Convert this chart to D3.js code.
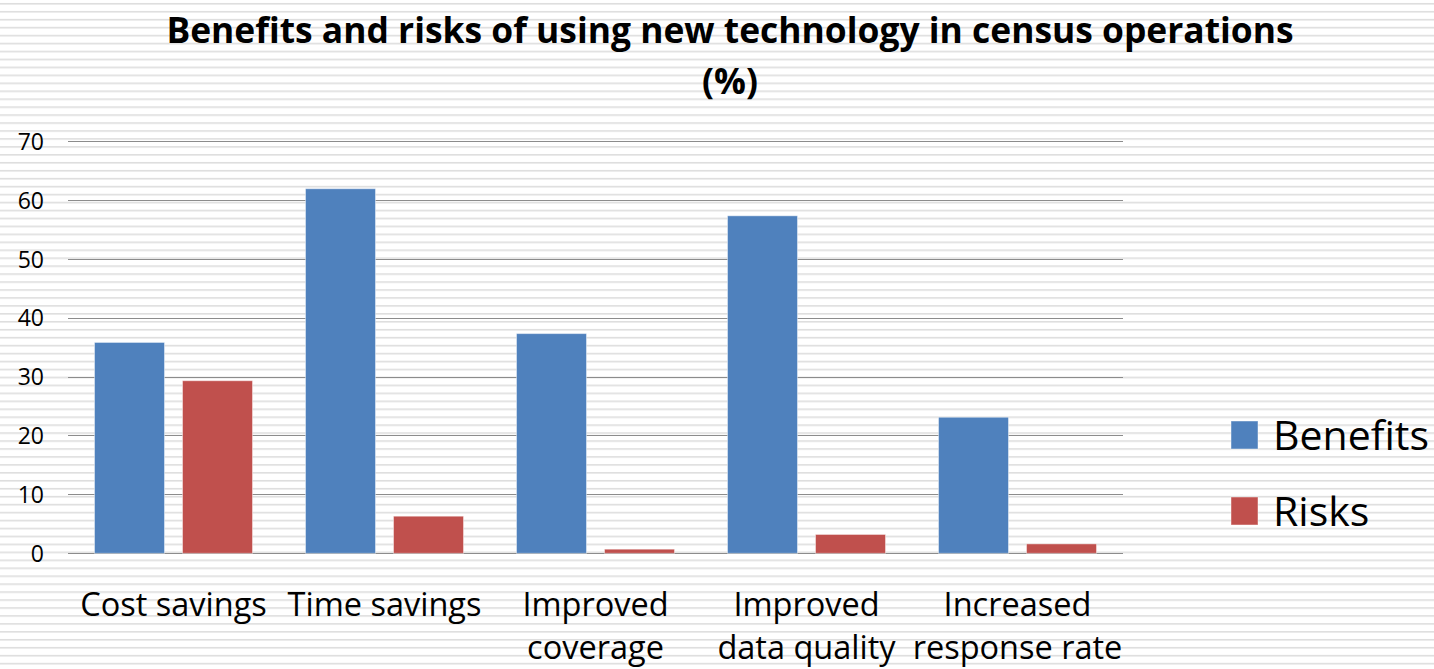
<!DOCTYPE html>
<html>
<head>
<meta charset="utf-8">
<script src="https://cdn.jsdelivr.net/npm/d3@7"></script>
<style>
  html, body { margin: 0; padding: 0; background: #fff; }
  svg { display: block; }
  text { font-family: "Open Sans", Lato, sans-serif; fill: #000; }
</style>
</head>
<body>
<svg id="chart" width="1434" height="669"></svg>
<script>
// Survey shares (%) per area of census operations
const categories = [
  ["Cost savings"],
  ["Time savings"],
  ["Improved", "coverage"],
  ["Improved", "data quality"],
  ["Increased", "response rate"]
];
const seriesNames = ["Benefits", "Risks"];
const benefits = [35.8, 61.9, 37.3, 57.3, 23.1];
const risks = [29.3, 6.3, 0.7, 3.2, 1.6];
const yTicks = [0, 10, 20, 30, 40, 50, 60, 70];
const colors = ["#4f81bd", "#c0504d"];

const svg = d3.select("#chart");
const W = 1434, H = 669;

// striped page background
const defs = svg.append("defs");
const pat = defs.append("pattern")
  .attr("id", "stripes").attr("patternUnits", "userSpaceOnUse")
  .attr("width", 8).attr("height", 7.95);
pat.append("rect").attr("width", 8).attr("height", 7.95).attr("fill", "#ffffff");
pat.append("rect").attr("y", 3).attr("width", 8).attr("height", 1.6).attr("fill", "#dedede");
svg.append("rect").attr("width", W).attr("height", H).attr("fill", "url(#stripes)");

const plot = { left: 68, right: 1123, top: 141, bottom: 553.3 };

const x0 = d3.scaleBand()
  .domain(d3.range(categories.length))
  .range([plot.left, plot.right])
  .paddingInner(0).paddingOuter(0);

const x1 = d3.scaleBand()
  .domain(seriesNames)
  .range([0, x0.bandwidth()])
  .paddingInner(0.2045).paddingOuter(0.301);

const y = d3.scaleLinear().domain([0, 70]).range([plot.bottom, plot.top]);

// gridlines
svg.append("g").selectAll("line").data(yTicks).join("line")
  .attr("x1", plot.left).attr("x2", plot.right)
  .attr("y1", d => Math.round(y(d)) + 0.5).attr("y2", d => Math.round(y(d)) + 0.5)
  .attr("stroke", "#8c8c8c").attr("stroke-width", 1);

// y axis labels
const yAxis = d3.axisLeft(y).tickValues(yTicks).tickSize(0).tickPadding(0);
const gy = svg.append("g").attr("transform", `translate(44,0)`).call(yAxis);
gy.select(".domain").remove();
gy.selectAll("text")
  .style("font-family", "'Open Sans', Lato, sans-serif")
  .style("font-size", "23px").attr("fill", "#262626").attr("dy", "0.36em");

// bars
const rows = categories.map((c, i) => ({ i, values: [benefits[i], risks[i]] }));
const groups = svg.append("g").selectAll("g").data(rows).join("g")
  .attr("transform", d => `translate(${x0(d.i)},0)`);
groups.selectAll("rect")
  .data(d => d.values.map((v, k) => ({ v, k })))
  .join("rect")
  .attr("x", d => x1(seriesNames[d.k]))
  .attr("width", x1.bandwidth())
  .attr("y", d => y(d.v))
  .attr("height", d => y(0) - y(d.v))
  .attr("fill", d => colors[d.k])
  .attr("stroke", "rgba(255,255,255,0.45)")
  .attr("stroke-width", 1);

// category labels
const catG = svg.append("g").selectAll("text").data(categories).join("text")
  .attr("text-anchor", "middle")
  .attr("x", (d, i) => x0(i) + x0.bandwidth() / 2)
  .style("font-size", "32.5px");
catG.selectAll("tspan").data(d => d).join("tspan")
  .attr("x", function () { return d3.select(this.parentNode).attr("x"); })
  .attr("y", (d, j) => 616 + j * 43)
  .text(d => d);

// title
svg.append("text")
  .attr("x", 730).attr("y", 43).attr("text-anchor", "middle")
  .style("font-size", "35.4px").style("font-weight", "bold")
  .text("Benefits and risks of using new technology in census operations");
svg.append("text")
  .attr("x", 730).attr("y", 94).attr("text-anchor", "middle")
  .style("font-size", "35.4px").style("font-weight", "bold")
  .text("(%)");

// legend
const leg = svg.append("g").selectAll("g").data(seriesNames).join("g")
  .attr("transform", (d, i) => `translate(1231,${421 + i * 76})`);
leg.append("rect").attr("width", 27).attr("height", 28)
  .attr("fill", (d, i) => colors[i])
  .attr("stroke", "rgba(255,255,255,0.45)");
leg.append("text").attr("x", 42).attr("y", 29)
  .style("font-size", "41px").text(d => d);
</script>
</body>
</html>
